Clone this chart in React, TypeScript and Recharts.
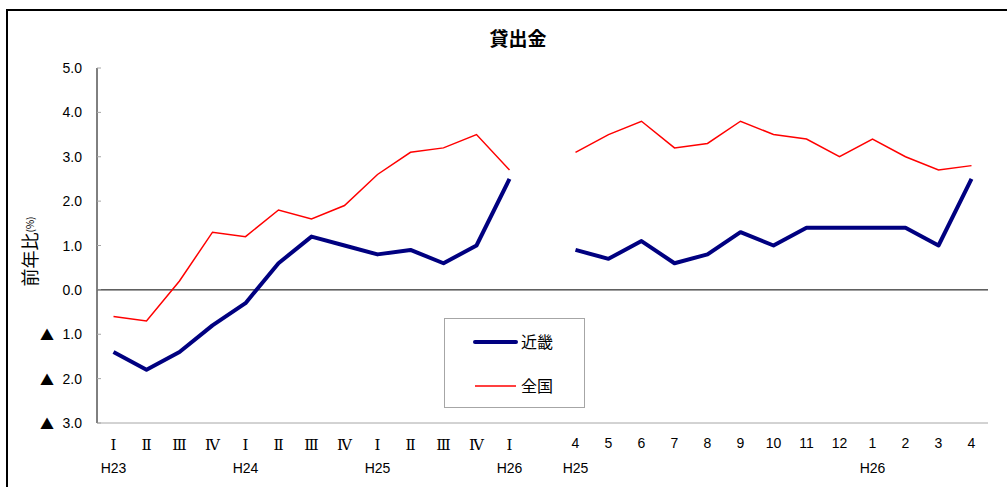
import React from 'react';
import { LineChart, Line, XAxis, YAxis, ReferenceLine, Legend, Label } from 'recharts';

const quarterLabels = ['Ⅰ', 'Ⅱ', 'Ⅲ', 'Ⅳ', 'Ⅰ', 'Ⅱ', 'Ⅲ', 'Ⅳ', 'Ⅰ', 'Ⅱ', 'Ⅲ', 'Ⅳ', 'Ⅰ'];
const quarterYears = ['H23', '', '', '', 'H24', '', '', '', 'H25', '', '', '', 'H26'];
const monthLabels = ['4', '5', '6', '7', '8', '9', '10', '11', '12', '1', '2', '3', '4'];
const monthYears = ['H25', '', '', '', '', '', '', '', '', 'H26', '', '', ''];

const kinkiQuarter = [-1.4, -1.8, -1.4, -0.8, -0.3, 0.6, 1.2, 1.0, 0.8, 0.9, 0.6, 1.0, 2.5];
const zenkokuQuarter = [-0.6, -0.7, 0.2, 1.3, 1.2, 1.8, 1.6, 1.9, 2.6, 3.1, 3.2, 3.5, 2.7];
const kinkiMonth = [0.9, 0.7, 1.1, 0.6, 0.8, 1.3, 1.0, 1.4, 1.4, 1.4, 1.4, 1.0, 2.5];
const zenkokuMonth = [3.1, 3.5, 3.8, 3.2, 3.3, 3.8, 3.5, 3.4, 3.0, 3.4, 3.0, 2.7, 2.8];

const yTicks = [-3, -2, -1, 0, 1, 2, 3, 4, 5];
const seriesOrder = ['kinki', 'zenkoku'];

type Row = { key: string; label: string; year: string; kinki: number | null; zenkoku: number | null };

const data: Row[] = [
  ...quarterLabels.map((l, i) => ({ key: 'q' + i, label: l, year: quarterYears[i], kinki: kinkiQuarter[i], zenkoku: zenkokuQuarter[i] })),
  { key: 'gap', label: '', year: '', kinki: null, zenkoku: null },
  ...monthLabels.map((l, i) => ({ key: 'm' + i, label: l, year: monthYears[i], kinki: kinkiMonth[i], zenkoku: zenkokuMonth[i] })),
];

const SANS = '"Liberation Sans", "Noto Sans CJK JP", sans-serif';
const CJK = '"Noto Sans CJK JP", sans-serif';
const SERIF = '"DejaVu Serif", "Liberation Serif", serif';
const GRAY = '#a6a6a6';
const NAVY = '#000080';
const RED = '#ff0000';

const XTick = (props: any) => {
  const { x, y, index } = props;
  const row = data[index];
  if (!row) return null;
  const isRoman = row.key.startsWith('q');
  return (
    <g>
      <text x={x} y={y + (isRoman ? 19 : 17)} textAnchor="middle" fontSize={isRoman ? 15 : 14} fontFamily={isRoman ? SERIF : SANS} fill="#000">
        {row.label}
      </text>
      {row.year ? (
        <text x={x} y={y + 42} textAnchor="middle" fontSize={14} fontFamily={SANS} fill="#000">
          {row.year}
        </text>
      ) : null}
    </g>
  );
};

const YTick = (props: any) => {
  const { x, y, payload } = props;
  const v = payload.value as number;
  return (
    <g>
      <line x1={x} x2={x + 4} y1={y} y2={y} stroke={GRAY} />
      <text x={x - 15} y={y + 5} textAnchor="end" fontSize={14} fontFamily={SANS} fill="#000">
        {Math.abs(v).toFixed(1)}
      </text>
      {v < 0 ? (
        <text x={x - 43} y={y + 6} textAnchor="end" fontSize={14} fontFamily={CJK} fill="#000">
          ▲
        </text>
      ) : null}
    </g>
  );
};

const YLabel = (props: any) => {
  const vb = props.viewBox || {};
  const cx = vb.x + 22;
  const cy = vb.y + vb.height / 2 + 6;
  return (
    <text x={cx} y={cy} transform={`rotate(-90 ${cx} ${cy})`} textAnchor="middle" dominantBaseline="central" fontFamily={CJK} fontSize={18} fill="#000">
      前年比<tspan fontSize={10}>(%)</tspan>
    </text>
  );
};

const LegendBox = (props: any) => {
  const payload = ([...(props.payload || [])] as any[]).sort(
    (a, b) => seriesOrder.indexOf(String(a.dataKey)) - seriesOrder.indexOf(String(b.dataKey))
  );
  return (
    <div style={{ width: 139, height: 88, border: `1px solid ${GRAY}`, background: '#fff', position: 'relative' }}>
      <svg width={139} height={88} style={{ position: 'absolute', left: 0, top: 0 }}>
        {payload.map((p, i) => {
          const yy = 23 + i * 44;
          const w = p.dataKey === 'kinki' ? 4 : 1.5;
          return (
            <g key={String(p.dataKey)}>
              <line x1={30} x2={71} y1={yy} y2={yy} stroke={p.color} strokeWidth={w} strokeLinecap={w > 2 ? 'round' : 'butt'} />
              <text x={76} y={yy + 6} fontFamily={CJK} fontSize={16} fill="#000">
                {p.value}
              </text>
            </g>
          );
        })}
      </svg>
    </div>
  );
};

export default function App() {
  return (
    <div style={{ position: 'absolute', left: 0, top: 0, width: 1007, height: 487, background: '#fff' }}>
      <div style={{ position: 'absolute', left: 6, top: 9, width: 1001, height: 478, borderTop: '2px solid #000', borderLeft: '2px solid #000', boxSizing: 'border-box' }} />
      <div style={{ position: 'absolute', left: 418, top: 25, width: 200, textAlign: 'center', fontFamily: CJK, fontSize: 19, fontWeight: 700, color: '#000', lineHeight: '26px' }}>
        貸出金
      </div>
      <div style={{ position: 'absolute', left: 0, top: 0 }}>
        <LineChart width={1007} height={487} data={data} margin={{ top: 68, right: 19, bottom: 0, left: 7 }}>
          <XAxis dataKey="key" scale="band" interval={0} height={64} tick={<XTick />} tickLine={false} axisLine={{ stroke: GRAY }} />
          <XAxis xAxisId="top" dataKey="key" scale="band" orientation="top" height={0} tick={false} tickLine={false} axisLine={{ stroke: GRAY }} />
          <YAxis domain={[-3, 5]} ticks={yTicks} interval={0} width={90} tickSize={0} tickMargin={0} tickLine={false} tick={<YTick />} axisLine={{ stroke: '#000' }}>
            <Label content={<YLabel />} />
          </YAxis>
          <YAxis yAxisId="right" orientation="right" domain={[-3, 5]} width={0} tick={false} tickLine={false} axisLine={{ stroke: GRAY }} />
          <ReferenceLine y={0} stroke="#000" strokeWidth={1} />
          <Line dataKey="kinki" name="近畿" stroke={NAVY} strokeWidth={4} dot={false} isAnimationActive={false} strokeLinejoin="round" />
          <Line dataKey="zenkoku" name="全国" stroke={RED} strokeWidth={1.5} dot={false} isAnimationActive={false} />
          <Legend layout="horizontal" verticalAlign="middle" align="center" content={<LegendBox />} wrapperStyle={{ left: 444, top: 318, width: 141, height: 90 }} />
        </LineChart>
      </div>
    </div>
  );
}
